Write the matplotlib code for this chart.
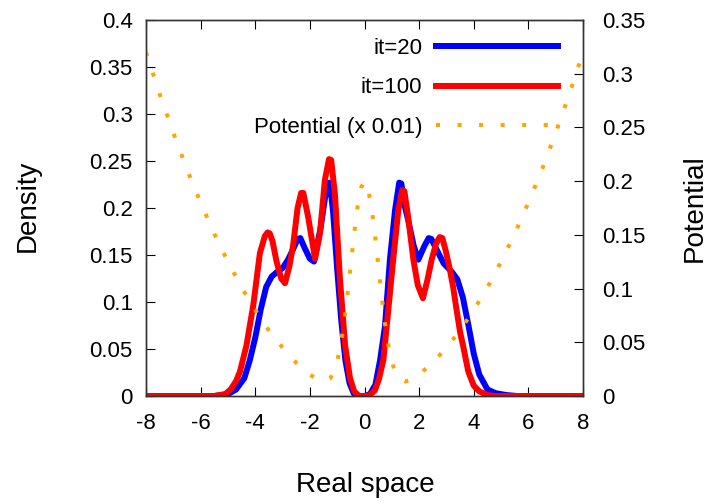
import matplotlib
matplotlib.use("Agg")
import matplotlib.pyplot as plt

plt.rcParams['font.family'] = ['Liberation Sans', 'DejaVu Sans']
plt.rcParams['axes.unicode_minus'] = False

# it=20 density
x_it20 = [-8, -5.5, -5.0, -4.7, -4.4, -4.2, -4.0, -3.8, -3.6, -3.4, -3.2, -3.0, -2.8, -2.6,
          -2.45, -2.35, -2.2, -2.0, -1.85, -1.6, -1.45, -1.35, -1.27, -1.15, -1.0, -0.85, -0.7, -0.55, -0.4,
          -0.25, 0.0, 0.2, 0.4, 0.57, 0.75, 0.93, 1.12, 1.27, 1.35, 1.45, 1.6, 1.8, 1.97, 2.2, 2.35, 2.45,
          2.6, 2.9, 3.2, 3.4, 3.6, 3.8, 4.0, 4.2, 4.5, 4.8, 5.2, 5.6, 8]
d_it20 = [0, 0, 0.002, 0.007, 0.019, 0.038, 0.062, 0.092, 0.116, 0.127, 0.132, 0.136, 0.145, 0.157,
          0.167, 0.168, 0.158, 0.146, 0.143, 0.180, 0.210, 0.226, 0.227, 0.196, 0.135, 0.080, 0.038, 0.014, 0.003,
          0.0, 0.0, 0.002, 0.012, 0.038, 0.074, 0.145, 0.198, 0.227, 0.226, 0.205, 0.187, 0.160, 0.145, 0.160, 0.168, 0.167,
          0.158, 0.141, 0.132, 0.124, 0.105, 0.076, 0.045, 0.023, 0.007, 0.003, 0.001, 0, 0]

# it=100 density
x_it100 = [-8, -5.5, -5.1, -4.9, -4.7, -4.56, -4.32, -4.07, -3.83, -3.65, -3.55, -3.47, -3.37, -3.22, -3.05,
           -2.91, -2.75, -2.61, -2.45, -2.32, -2.24, -2.15, -2.06, -1.81, -1.63, -1.45, -1.3, -1.22, -1.08, -0.9,
           -0.71, -0.53, -0.38, -0.2, 0.0, 0.2, 0.38, 0.53, 0.69, 0.87, 1.05, 1.24, 1.38, 1.46, 1.6, 1.79,
           1.95, 2.14, 2.3, 2.46, 2.62, 2.75, 2.85, 2.97, 3.13, 3.25, 3.38, 3.5, 3.62, 3.8, 4.0, 4.2, 4.5,
           4.8, 8]
d_it100 = [0, 0, 0.002, 0.007, 0.016, 0.026, 0.054, 0.097, 0.152, 0.170, 0.174, 0.173, 0.165, 0.143, 0.125,
           0.120, 0.138, 0.161, 0.200, 0.216, 0.216, 0.203, 0.190, 0.146, 0.173, 0.230, 0.252, 0.251, 0.214, 0.125,
           0.054, 0.019, 0.005, 0.0, 0.0, 0.001, 0.006, 0.018, 0.038, 0.091, 0.145, 0.198, 0.219, 0.218, 0.190, 0.145,
           0.118, 0.104, 0.123, 0.145, 0.162, 0.169, 0.168, 0.155, 0.134, 0.115, 0.090, 0.068, 0.052, 0.026, 0.011,
           0.005, 0.001, 0, 0]

# Potential (x 0.01), right axis
x_pot = [-8, -7.5, -7, -6.5, -6, -5.5, -5, -4.5, -4, -3.5, -3, -2.5, -2, -1.75, -1.5, -1.25,
         -1.125, -1.0, -0.875, -0.75, -0.625, -0.5, -0.375, -0.25, -0.125, 0.0,
         0.125, 0.25, 0.375, 0.5, 0.625, 0.75, 0.875, 1.0, 1.125, 1.25, 1.5, 1.75, 2, 2.5, 3,
         3.5, 4, 4.5, 5, 5.5, 6, 6.5, 7, 7.5, 8]
v_pot = [0.320, 0.281, 0.245, 0.211, 0.180, 0.151, 0.125, 0.101, 0.080, 0.061, 0.045, 0.031, 0.020,
         0.0157, 0.0135, 0.0166, 0.0222, 0.032, 0.0471, 0.0677, 0.0935, 0.1226, 0.1517, 0.1768, 0.1939, 0.200,
         0.1939, 0.1768, 0.1517, 0.1226, 0.0935, 0.0677, 0.0471, 0.032, 0.0222, 0.0166, 0.0135, 0.0157,
         0.020, 0.031, 0.045, 0.061, 0.080, 0.101, 0.125, 0.151, 0.180, 0.211, 0.245, 0.281, 0.320]

x_ticks = [-8, -6, -4, -2, 0, 2, 4, 6, 8]
x_ticklabels = ['-8', '-6', '-4', '-2', '0', '2', '4', '6', '8']
y_ticks = [0, 0.05, 0.1, 0.15, 0.2, 0.25, 0.3, 0.35, 0.4]
y_ticklabels = ['0', '0.05', '0.1', '0.15', '0.2', '0.25', '0.3', '0.35', '0.4']
y2_ticks = [0, 0.05, 0.1, 0.15, 0.2, 0.25, 0.3, 0.35]
y2_ticklabels = ['0', '0.05', '0.1', '0.15', '0.2', '0.25', '0.3', '0.35']

W, H = 710, 504
fig = plt.figure(figsize=(W / 100, H / 100), dpi=100)
L, R, T, B = 146, 583, 20, 396
ax = fig.add_axes([L / W, 1 - B / H, (R - L) / W, (B - T) / H])
ax2 = ax.twinx()

l1, = ax.plot(x_it20, d_it20, color='#0000ff', lw=4.3, solid_joinstyle='round', label='it=20')
l2, = ax.plot(x_it100, d_it100, color='#ff0000', lw=4.3, solid_joinstyle='round', label='it=100')
l3, = ax2.plot(x_pot, v_pot, color='#ffa500', lw=2.9, linestyle=(0, (1, 4.35)),
               dash_capstyle='butt', label='Potential (x 0.01)')

ax.set_xlim(-8, 8)
ax.set_ylim(0, 0.4)
ax2.set_ylim(0, 0.35)

ax.set_xticks(x_ticks)
ax.set_xticklabels(x_ticklabels)
ax.set_yticks(y_ticks)
ax.set_yticklabels(y_ticklabels)
ax2.set_yticks(y2_ticks)
ax2.set_yticklabels(y2_ticklabels)

for a in (ax, ax2):
    for s in a.spines.values():
        s.set_linewidth(1.0)
        s.set_color('#333333')

ax.tick_params(axis='x', direction='in', length=6.5, width=0.8, top=True, bottom=True,
               labelsize=16, pad=12.5)
ax.tick_params(axis='y', direction='in', length=6.5, width=0.8, left=True, right=False,
               labelsize=16, pad=9.5)
ax2.tick_params(axis='y', direction='in', length=6.5, width=0.8, right=True,
                labelsize=16, pad=13.5)

fig.text(28 / W, 1 - 206 / H, 'Density', rotation=90, ha='center', va='center', fontsize=20)
fig.text(695 / W, 1 - 208 / H, 'Potential', rotation=90, ha='center', va='center', fontsize=20)
fig.text(365 / W, 1 - 485 / H, 'Real space', ha='center', va='center', fontsize=20)

leg = ax2.legend(handles=[l1, l2, l3], loc='upper right',
                 bbox_to_anchor=((558 - L) / (R - L), (B - 38) / (B - T)),
                 frameon=False, markerfirst=False, fontsize=16, handlelength=5.5,
                 handletextpad=0.6, labelspacing=0.83, borderpad=0, borderaxespad=0)

fig.savefig('out.png', dpi=100)
